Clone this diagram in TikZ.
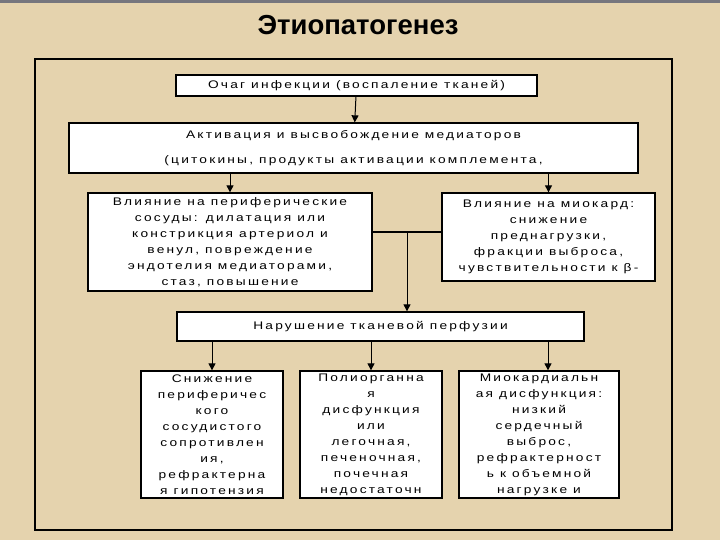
\documentclass[tikz,border=0pt]{standalone}
\usepackage{fontspec}
\usetikzlibrary{arrows.meta,positioning}
\newfontfamily\titlefont{Liberation Sans}
\newfontfamily\boxfont[FakeStretch=1.25,LetterSpace=20]{Liberation Sans}
\definecolor{parchment}{RGB}{229,211,174}
\definecolor{slidebar}{RGB}{118,118,126}

\begin{document}
\begin{tikzpicture}[
  x=1pt, y=-1pt,
  >={Triangle[length=7pt,width=7pt]},
  line width=1pt,
  every node/.style={inner sep=0pt},
  stage/.style={draw, line width=1.3pt, fill=white, align=center,
    font=\boxfont\fontsize{11}{16}\selectfont},
  link/.style={->, line width=1pt}
]
  % slide background and frame
  \fill[parchment] (0,0) rectangle (720,540);
  \fill[slidebar] (0,0) rectangle (720,3);
  \useasboundingbox (0,0) rectangle (720,540);
  \draw[line width=1.2pt] (35,59) rectangle (672,530);
  \node[font=\titlefont\bfseries\fontsize{27.5}{32}\selectfont] (title) at (358,25) {Этиопатогенез};

  % upper chain
  \node[stage, minimum width=361, minimum height=21] (infection) at (356.5,85.5)
    {Очаг инфекции (воспаление тканей)};
  \node[stage, minimum width=569, minimum height=50] (mediators) at (353.5,148)
    {Активация и высвобождение медиаторов\\[9pt](цитокины, продукты активации комплемента,};
  \node[stage, minimum width=284, minimum height=98] (vessels) at (230,242)
    {Влияние на периферические\\сосуды: дилатация или\\констрикция артериол и\\венул, повреждение\\эндотелия медиаторами,\\стаз, повышение};
  \node[stage, minimum width=213, minimum height=88] (myocard) at (548.5,237)
    {Влияние на миокард:\\снижение\\преднагрузки,\\фракции выброса,\\чувствительности к β-};
  \node[stage, minimum width=407, minimum height=29] (perfusion) at (380.5,326.5)
    {Нарушение тканевой перфузии};

  % outcomes
  \node[stage, minimum width=142, minimum height=127] (resistance) at (212,434.5)
    {Снижение\\периферичес\\кого\\сосудистого\\сопротивлен\\ия,\\рефрактерна\\я гипотензия};
  \node[stage, minimum width=142, minimum height=127] (organs) at (371,434.5)
    {Полиорганна\\я\\дисфункция\\или\\легочная,\\печеночная,\\почечная\\недостаточн};
  \node[stage, minimum width=160, minimum height=127] (cardiac) at (539,434.5)
    {Миокардиальн\\ая дисфункция:\\низкий\\сердечный\\выброс,\\рефрактерност\\ь к объемной\\нагрузке и};

  \coordinate (junction) at (407,232);

  \path[link]
    (infection) edge (mediators)
    (vessels.north |- mediators.south) edge (vessels.north)
    (myocard.north |- mediators.south) edge (myocard.north)
    (junction) edge (junction |- perfusion.north)
    (resistance.north |- perfusion.south) edge (resistance.north)
    (organs.north |- perfusion.south) edge (organs.north)
    ([xshift=9]cardiac.north |- perfusion.south) edge ([xshift=9]cardiac.north);
  \draw (vessels.east |- junction) -- (myocard.west |- junction);
\end{tikzpicture}
\end{document}
